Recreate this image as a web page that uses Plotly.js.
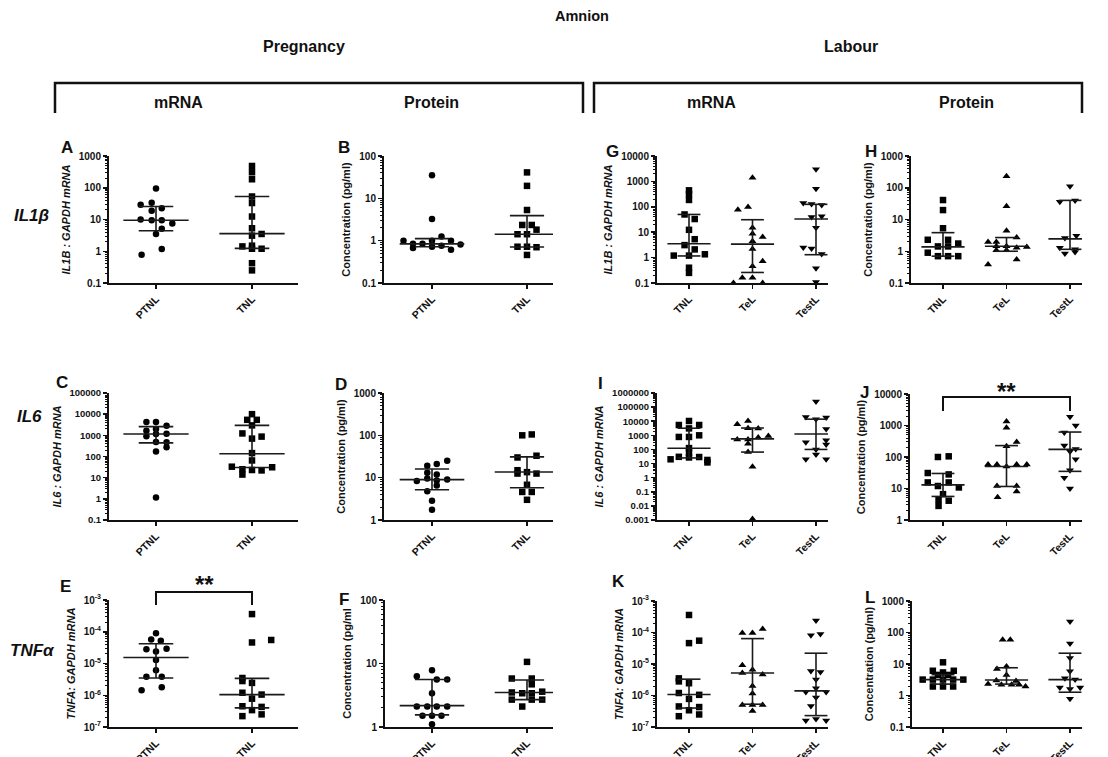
<!DOCTYPE html>
<html><head><meta charset="utf-8">
<script src="https://cdn.plot.ly/plotly-3.0.1.min.js"></script>
<style>html,body{margin:0;padding:0;background:#fff}#chart{width:1108px;height:757px}</style>
</head><body><div id="chart"></div>
<script>
// ---------- categories ----------
const pregCats = ['PTNL', 'TNL'];
const labCats = ['TNL', 'TeL', 'TestL'];

// ---------- Panel A : IL1B mRNA, pregnancy ----------
const A_PTNL = [95, 29, 34, 22.7, 19, 10, 9.5, 9.5, 7.5, 5.1, 3.5, 1.17, 0.78];
const A_PTNL_jit = [0, -0.16, -0.045, 0.06, -0.045, -0.16, -0.045, 0.06, 0.17, 0.06, 0, 0.06, -0.15];
const A_TNL = [485, 307, 185, 53, 33, 12.4, 5.3, 3.1, 3.5, 1.42, 1.5, 1.2, 1.2, 0.42, 0.25];
const A_TNL_jit = [0, 0, 0, 0, 0, 0, 0, 0, 0.1, -0.1, 0, 0.1, 0, 0, 0];
const A_med = [9.5, 3.6], A_q1 = [4.4, 1.23], A_q3 = [25.7, 53];

// ---------- Panel B : IL1B protein, pregnancy ----------
const B_PTNL = [35, 3.25, 1.0, 0.84, 0.67, 0.84, 1.0, 0.72, 1.25, 0.76, 1.0, 0.61, 0.81];
const B_PTNL_jit = [0, 0, -0.3, -0.2, -0.2, -0.1, 0, 0, 0.1, 0.1, 0.2, 0.2, 0.3];
const B_TNL = [41, 19.7, 5.3, 2.35, 2.35, 1.42, 1.42, 1.82, 0.72, 0.72, 0.70, 0.46];
const B_TNL_jit = [0, 0, 0, -0.05, 0.05, -0.1, 0, 0.1, -0.1, 0, 0.1, 0];
const B_med = [0.84, 1.42], B_q1 = [0.72, 0.71], B_q3 = [1.12, 3.9];

// ---------- Panel G : IL1B mRNA, labour ----------
const G_TNL = [445, 316, 186, 50, 33, 12.4, 5.3, 3.1, 2.1, 1.2, 1.2, 1.35, 0.4, 0.25];
const G_TNL_jit = [0, 0, 0, -0.07, 0.09, 0, 0.09, -0.07, 0.09, -0.24, 0, 0.25, 0, 0];
const G_TeL = [1400, 77, 98, 15, 8.7, 6.5, 4.4, 2.2, 0.72, 0.46, 0.16, 0.16, 0.1, 0.1];
const G_TeL_jit = [0, -0.23, -0.07, 0, 0, 0.16, 0, 0, 0.16, 0, -0.16, 0, -0.3, 0.16];
const G_TestL = [3000, 510, 140, 128, 117, 40, 42, 15, 2.5, 2.3, 1.4, 0.38, 0.11];
const G_TestL_jit = [0, 0, -0.2, -0.07, 0.09, -0.07, 0.09, 0, -0.2, -0.07, 0.09, 0, 0];
const G_med = [3.5, 3.4, 33], G_q1 = [1.16, 0.26, 1.3], G_q3 = [50, 31, 125];

// ---------- Panel H : IL1B protein, labour ----------
const H_TNL = [41, 19.8, 5.3, 2.3, 2.3, 1.42, 1.42, 1.75, 0.9, 0.7, 0.7, 0.7];
const H_TNL_jit = [0, 0, 0, -0.24, 0.08, -0.08, 0.08, 0.24, -0.24, -0.08, 0.08, 0.24];
const H_TeL = [230, 26, 4.4, 2.7, 1.96, 1.96, 1.43, 1.43, 1.37, 1.3, 1.07, 1.07, 0.55, 0.38];
const H_TeL_jit = [0, 0, 0, 0.16, -0.16, -0.29, -0.16, 0, 0.32, 0.16, 0, -0.16, 0.16, -0.29];
const H_TestL = [112, 36, 40, 3.1, 2.6, 1.3, 1.15, 0.95, 0.85];
const H_TestL_jit = [0, -0.16, 0.08, 0.1, -0.08, -0.16, 0.08, 0.08, -0.08];
const H_med = [1.37, 1.44, 2.46], H_q1 = [0.70, 1.0, 1.15], H_q3 = [3.85, 2.7, 40];

// ---------- Panel C : IL6 mRNA, pregnancy ----------
const C_PTNL = [4230, 4230, 2800, 2000, 1650, 900, 1150, 1200, 470, 480, 170, 270, 1.15];
const C_PTNL_jit = [-0.1, 0, 0.11, 0, -0.1, -0.1, 0, 0.11, 0.11, 0, 0, 0.11, 0];
const C_TNL = [10000, 5400, 5400, 2950, 1230, 870, 700, 145, 65, 33, 31, 25, 23, 22, 14];
const C_TNL_jit = [0, -0.05, 0.05, 0, -0.1, 0.1, 0, 0, 0, -0.21, 0.21, -0.1, 0, 0.1, -0.1];
const C_med = [1150, 135], C_q1 = [440, 30], C_q3 = [2570, 2950];

// ---------- Panel D : IL6 protein, pregnancy ----------
const D_PTNL = [19, 21, 25, 13, 11.8, 8.3, 9.5, 8.6, 9.1, 4.8, 6.5, 2.85, 1.74];
const D_PTNL_jit = [-0.05, 0.05, 0.16, -0.05, 0.05, -0.16, -0.05, 0.05, 0.16, -0.05, 0.05, 0, 0];
const D_TNL = [100, 105, 30, 33, 15, 12.5, 13.5, 12.5, 6.8, 4.6, 4.6, 3.0];
const D_TNL_jit = [-0.05, 0.05, -0.1, 0.1, -0.1, -0.1, 0, 0.1, 0, -0.05, 0.05, 0];
const D_med = [9, 13.6], D_q1 = [5.2, 5.8], D_q3 = [16, 31];

// ---------- Panel I : IL6 mRNA, labour ----------
const I_TNL = [10400, 5400, 5400, 3100, 770, 770, 1000, 125, 20, 30, 60, 27, 29, 18, 12];
const I_TNL_jit = [0, -0.16, 0.16, 0, -0.16, 0, 0.16, 0, -0.29, -0.16, 0, 0, 0.16, 0.29, 0.29];
const I_TeL = [10400, 6000, 3200, 3000, 500, 500, 700, 900, 250, 65, 6, 0.0012];
const I_TeL_jit = [-0.07, -0.24, -0.07, 0.09, -0.24, -0.07, 0.09, 0.25, -0.07, -0.07, 0, 0];
const I_TestL = [250000, 20000, 14000, 18000, 2800, 320, 450, 220, 100, 43, 20, 20];
const I_TestL_jit = [0, -0.16, 0, 0.16, 0.16, -0.16, 0.16, 0.16, 0, 0, -0.16, 0.16];
const I_med = [122, 560, 1250], I_q1 = [25, 65, 100], I_q3 = [3200, 3300, 14000];

// ---------- Panel J : IL6 protein, labour ----------
const J_TNL = [100, 105, 31, 28, 15.6, 15.6, 10.8, 12, 6.6, 4.4, 4.1, 2.8];
const J_TNL_jit = [-0.08, 0.09, -0.24, 0.09, -0.24, 0.09, 0.25, -0.08, 0, -0.07, 0.09, -0.07];
const J_TeL = [1350, 850, 300, 220, 58, 58, 50, 58, 58, 12, 12, 5.3, 8];
const J_TeL_jit = [0, 0, 0.16, 0, -0.29, -0.15, 0, 0.16, 0.32, -0.15, 0.16, -0.14, 0.16];
const J_TestL = [1900, 1000, 600, 230, 180, 150, 85, 38, 22, 10];
const J_TestL_jit = [0, 0.09, -0.09, -0.09, 0.09, 0, 0.09, 0, -0.09, 0];
const J_med = [13, 50, 175], J_q1 = [5.6, 11.6, 35], J_q3 = [30, 230, 620];
const J_sig = [0, 2];

// ---------- Panel E : TNFA mRNA, pregnancy ----------
const E_PTNL = [8.9e-5, 5.7e-5, 5.2e-5, 2.8e-5, 2.4e-5, 2.9e-5, 1.3e-5, 6.1e-6, 3.8e-6, 3.8e-6, 1.45e-6, 1.8e-6];
const E_PTNL_jit = [0, -0.05, 0.05, -0.1, 0, 0.11, 0, 0, -0.1, 0.06, -0.15, 0.06];
const E_TNL = [3.6e-4, 4.6e-5, 5.5e-5, 3.5e-6, 2.8e-6, 2.45e-6, 1.2e-6, 1.05e-6, 7.8e-7, 4.5e-7, 3.4e-7, 4.3e-7, 2.2e-7, 2.5e-7];
const E_TNL_jit = [0, 0, 0.2, -0.1, -0.1, 0, -0.1, 0.1, 0, -0.1, 0, 0.1, -0.1, 0.1];
const E_med = [1.55e-5, 1.05e-6], E_q1 = [3.5e-6, 4e-7], E_q3 = [4.2e-5, 3.4e-6];
const E_sig = [0, 1];

// ---------- Panel F : TNFA protein, pregnancy ----------
const F_PTNL = [7.85, 6.3, 5.6, 5.6, 3.4, 2.1, 2.1, 2.1, 2.1, 1.5, 1.5, 1.5, 1.1];
const F_PTNL_jit = [0, -0.16, 0.05, 0.16, 0, -0.16, -0.05, 0.05, 0.16, -0.1, 0, 0.1, 0];
const F_TNL = [10.6, 5.8, 5.8, 4.7, 3.5, 3.4, 3.4, 3.6, 2.7, 2.7, 2.7, 2.1];
const F_TNL_jit = [0, -0.16, 0.05, 0.05, -0.16, -0.05, 0.05, 0.16, -0.16, 0.05, 0.16, -0.05];
const F_med = [2.17, 3.5], F_q1 = [1.55, 2.7], F_q3 = [5.6, 5.5];

// ---------- Panel K : TNFA mRNA, labour ----------
const K_TNL = [3.6e-4, 4.6e-5, 5.5e-5, 3.5e-6, 2.8e-6, 2.45e-6, 1.2e-6, 1.05e-6, 7.8e-7, 4.5e-7, 3.4e-7, 4.3e-7, 2.2e-7, 2.5e-7];
const K_TNL_jit = [0, 0, 0.16, -0.16, -0.16, 0, -0.16, 0.16, 0, -0.16, 0, 0.16, -0.16, 0.16];
const K_TeL = [9.7e-5, 9.7e-5, 1.3e-4, 9.1e-6, 5.2e-6, 6.6e-6, 4.6e-6, 2e-6, 1.15e-6, 5e-7, 5e-7, 5e-7, 3.2e-7];
const K_TeL_jit = [-0.16, 0, 0.16, -0.16, -0.16, 0, 0.16, 0, 0, -0.16, 0, 0.16, 0];
const K_TestL = [2.4e-4, 8.2e-5, 9e-5, 6e-6, 5.6e-6, 3.2e-6, 1.7e-6, 1.3e-6, 1.3e-6, 8.7e-7, 4.6e-7, 1.6e-7, 1.8e-7, 1.6e-7];
const K_TestL_jit = [0, -0.08, 0.07, -0.08, 0.07, 0, 0, -0.16, 0.16, 0, -0.08, -0.16, 0, 0.16];
const K_med = [1.07e-6, 5.2e-6, 1.4e-6], K_q1 = [4e-7, 5.3e-7, 2.3e-7], K_q3 = [3.3e-6, 6.4e-5, 2.2e-5];

// ---------- Panel L : TNFA protein, labour ----------
const L_TNL = [11.3, 6.1, 6.1, 5.4, 4.5, 4.5, 3.2, 3.2, 3.2, 3.2, 3.2, 1.93, 1.93, 1.93];
const L_TNL_jit = [0, -0.16, 0.17, 0, -0.08, 0.08, -0.32, -0.16, 0, 0.16, 0.32, -0.16, 0, 0.16];
const L_TeL = [59, 59, 8.3, 6.9, 4.5, 3.0, 2.9, 2.3, 2.2, 2.2, 2.2, 1.93];
const L_TeL_jit = [-0.06, 0.06, 0, -0.15, 0, -0.16, 0.15, -0.29, -0.08, 0.08, 0.2, 0.3];
const L_TestL = [225, 45, 15.5, 5.9, 3.5, 3.2, 1.8, 1.8, 1.6, 0.79];
const L_TestL_jit = [0, 0, 0, 0, -0.08, 0.08, -0.16, 0.16, 0, 0];
const L_med = [3.2, 3.1, 3.2], L_q1 = [2.3, 2.3, 1.27], L_q3 = [4.6, 7.6, 22];

// ---------- tick labels ----------
const ticks_A = [0.1, 1, 10, 100, 1000];
const ticks_B = [0.1, 1, 10, 100];
const ticks_G = [0.1, 1, 10, 100, 1000, 10000];
const ticks_C = [0.1, 1, 10, 100, 1000, 10000, 100000];
const ticks_D = [1, 10, 100, 1000];
const ticks_I = [0.001, 0.01, 0.1, 1, 10, 100, 1000, 10000, 100000, 1000000];
const ticks_J = [1, 10, 100, 1000, 10000];
const ticks_E = [1e-7, 1e-6, 1e-5, 1e-4, 1e-3];
const ticks_E_text = ['10<sup>-7</sup>', '10<sup>-6</sup>', '10<sup>-5</sup>', '10<sup>-4</sup>', '10<sup>-3</sup>'];
const ticks_F = [1, 10, 100];

// ---------- layout / style configuration ----------
const W = 1108, H = 757;
const FONT = 'Liberation Sans, Arial, sans-serif';
const INK = '#111';
const SYM = {PTNL: 'circle', TNL: 'square', TeL: 'triangle-up', TestL: 'triangle-down'};
const geoPreg1 = {c0: 156, sp: 96}, geoPreg2 = {c0: 432, sp: 95}, geoLab1 = {c0: 689, sp: 63.5}, geoLab2 = {c0: 943, sp: 63.5};

const panels = [
  {n: 1, letter: 'A', lp: [67, 147], px: [109, 298], py: [156, 283], g: geoPreg1, cats: pregCats, data: [[A_PTNL, A_PTNL_jit], [A_TNL, A_TNL_jit]], med: A_med, q1: A_q1, q3: A_q3, ticks: ticks_A, yt: '<b><i>IL1B : GAPDH mRNA</i></b>'},
  {n: 2, letter: 'B', lp: [344, 148], px: [384, 553], py: [156, 283], g: geoPreg2, cats: pregCats, data: [[B_PTNL, B_PTNL_jit], [B_TNL, B_TNL_jit]], med: B_med, q1: B_q1, q3: B_q3, ticks: ticks_B, yt: '<b>Concentration (pg/ml)</b>'},
  {n: 3, letter: 'G', lp: [612, 151], px: [657, 828], py: [156, 283], g: geoLab1, cats: labCats, data: [[G_TNL, G_TNL_jit], [G_TeL, G_TeL_jit], [G_TestL, G_TestL_jit]], med: G_med, q1: G_q1, q3: G_q3, ticks: ticks_G, yt: '<b><i>IL1B : GAPDH mRNA</i></b>'},
  {n: 4, letter: 'H', lp: [871, 151], px: [911, 1082], py: [156, 283], g: geoLab2, cats: labCats, data: [[H_TNL, H_TNL_jit], [H_TeL, H_TeL_jit], [H_TestL, H_TestL_jit]], med: H_med, q1: H_q1, q3: H_q3, ticks: ticks_A, yt: '<b>Concentration (pg/ml)</b>'},
  {n: 5, letter: 'C', lp: [62, 382], px: [109, 298], py: [393, 520], g: geoPreg1, cats: pregCats, data: [[C_PTNL, C_PTNL_jit], [C_TNL, C_TNL_jit]], med: C_med, q1: C_q1, q3: C_q3, ticks: ticks_C, yt: '<b><i>IL6 : GAPDH mRNA</i></b>'},
  {n: 6, letter: 'D', lp: [341, 384], px: [384, 553], py: [393, 520], g: geoPreg2, cats: pregCats, data: [[D_PTNL, D_PTNL_jit], [D_TNL, D_TNL_jit]], med: D_med, q1: D_q1, q3: D_q3, ticks: ticks_D, yt: '<b>Concentration (pg/ml)</b>'},
  {n: 7, letter: 'I', lp: [600, 383], px: [657, 828], py: [393, 520], g: geoLab1, cats: labCats, data: [[I_TNL, I_TNL_jit], [I_TeL, I_TeL_jit], [I_TestL, I_TestL_jit]], med: I_med, q1: I_q1, q3: I_q3, ticks: ticks_I, yt: '<b><i>IL6 : GAPDH mRNA</i></b>'},
  {n: 8, letter: 'J', lp: [864, 392], px: [910, 1082], py: [394, 520], g: geoLab2, cats: labCats, data: [[J_TNL, J_TNL_jit], [J_TeL, J_TeL_jit], [J_TestL, J_TestL_jit]], med: J_med, q1: J_q1, q3: J_q3, ticks: ticks_J, yt: '<b>Concentration (pg/ml)</b>', sig: J_sig, sigStyle: {top: 0.976, foot: 0.865, star: 0.90}},
  {n: 9, letter: 'E', lp: [65, 586], px: [109, 298], py: [600, 727], g: geoPreg1, cats: pregCats, data: [[E_PTNL, E_PTNL_jit], [E_TNL, E_TNL_jit]], med: E_med, q1: E_q1, q3: E_q3, ticks: ticks_E, ticktext: ticks_E_text, yt: '<b><i>TNFA: GAPDH mRNA</i></b>', sig: E_sig, sigStyle: {top: 1.063, foot: 0.96, star: 1.0}},
  {n: 10, letter: 'F', lp: [344, 599], px: [385, 553], py: [600, 727], g: geoPreg2, cats: pregCats, data: [[F_PTNL, F_PTNL_jit], [F_TNL, F_TNL_jit]], med: F_med, q1: F_q1, q3: F_q3, ticks: ticks_F, yt: '<b>Concentration (pg/ml</b>'},
  {n: 11, letter: 'K', lp: [618, 581], px: [657, 828], py: [601, 727], g: geoLab1, cats: labCats, data: [[K_TNL, K_TNL_jit], [K_TeL, K_TeL_jit], [K_TestL, K_TestL_jit]], med: K_med, q1: K_q1, q3: K_q3, ticks: ticks_E, ticktext: ticks_E_text, yt: '<b><i>TNFA: GAPDH mRNA</i></b>'},
  {n: 12, letter: 'L', lp: [870, 597], px: [912, 1082], py: [601, 727], g: geoLab2, cats: labCats, data: [[L_TNL, L_TNL_jit], [L_TeL, L_TeL_jit], [L_TestL, L_TestL_jit]], med: L_med, q1: L_q1, q3: L_q3, ticks: ticks_A, yt: '<b>Concentration (pg/ml)</b>'}
];

const traces = [];
const layout = {
  width: W, height: H, margin: {l: 0, r: 0, t: 0, b: 0},
  paper_bgcolor: '#fff', plot_bgcolor: '#fff', showlegend: false,
  font: {family: FONT, color: INK},
  shapes: [], annotations: []
};

function minorVals(lo, hi) {
  const out = [];
  for (let d = lo; d < hi; d++) for (let k = 2; k <= 9; k++) out.push(k * Math.pow(10, d));
  return out;
}

panels.forEach(p => {
  const xs = p.n === 1 ? '' : String(p.n);
  const xa = 'x' + xs, ya = 'y' + xs;
  p.data.forEach(([vals, jit], gi) => {
    traces.push({
      type: 'scatter', mode: 'markers', xaxis: xa, yaxis: ya, hoverinfo: 'y',
      x: vals.map((v, i) => gi + jit[i]), y: vals, cliponaxis: false,
      marker: {symbol: SYM[p.cats[gi]], size: p.cats[gi].startsWith('Te') ? 7 : 6.5, color: '#000', line: {width: 0}}
    });
  });
  const lx = [], ly = [];
  p.cats.forEach((c, gi) => {
    lx.push(gi - 0.34, gi + 0.34, null, gi - 0.18, gi + 0.18, null, gi - 0.18, gi + 0.18, null, gi, gi, null);
    ly.push(p.med[gi], p.med[gi], null, p.q1[gi], p.q1[gi], null, p.q3[gi], p.q3[gi], null, p.q1[gi], p.q3[gi], null);
  });
  traces.push({type: 'scatter', mode: 'lines', xaxis: xa, yaxis: ya, x: lx, y: ly, hoverinfo: 'skip',
    line: {color: '#1a1a1a', width: 1.6}});

  const lo = Math.round(Math.log10(p.ticks[0])), hi = Math.round(Math.log10(p.ticks[p.ticks.length - 1]));
  const xr = [(p.px[0] - p.g.c0) / p.g.sp, (p.px[1] - p.g.c0) / p.g.sp];
  const yTickSize = p.ticks.length > 6 ? 9.5 : 10;
  layout['xaxis' + xs] = {
    domain: [p.px[0] / W, p.px[1] / W], anchor: ya, range: xr, fixedrange: true,
    tickmode: 'array', tickvals: p.cats.map((c, i) => i), ticktext: p.cats,
    tickangle: -45, ticks: 'outside', ticklen: 4, tickwidth: 1.5, tickcolor: INK,
    showline: true, linecolor: INK, linewidth: 2, showgrid: false, zeroline: false,
    tickfont: {family: FONT, size: 10.5, color: INK, weight: 'bold'}, automargin: false
  };
  layout['yaxis' + xs] = {
    domain: [1 - p.py[1] / H, 1 - p.py[0] / H], anchor: xa, type: 'log', range: [lo, hi], fixedrange: true,
    tickmode: 'array', tickvals: p.ticks, ticktext: p.ticktext || p.ticks.map(v => String(v)),
    ticks: 'outside', ticklen: 4, tickwidth: 1.5, tickcolor: INK,
    minor: {tickmode: 'array', tickvals: minorVals(lo, hi), ticks: 'outside', ticklen: 2, tickwidth: 1, tickcolor: INK, showgrid: false},
    showline: true, linecolor: INK, linewidth: 2, showgrid: false, zeroline: false,
    tickfont: {family: FONT, size: yTickSize, color: INK, weight: 'bold'}, automargin: false,
    title: {text: p.yt, font: {family: FONT, size: 11, color: INK}, standoff: 6}
  };
  layout.annotations.push({xref: 'paper', yref: 'paper', x: p.lp[0] / W, y: 1 - p.lp[1] / H,
    text: '<b>' + p.letter + '</b>', showarrow: false, xanchor: 'center', yanchor: 'middle',
    font: {family: FONT, size: 17, color: INK}});
  if (p.sig) {
    const s = p.sigStyle, a = p.sig[0], b = p.sig[1];
    layout.shapes.push({type: 'path', xref: xa, yref: ya + ' domain',
      path: `M${a},${s.foot} L${a},${s.top} L${b},${s.top} L${b},${s.foot}`,
      line: {color: INK, width: 2}});
    layout.annotations.push({xref: xa, yref: ya + ' domain', x: (a + b) / 2, y: s.star,
      text: '<b>**</b>', showarrow: false, xanchor: 'center', yanchor: 'bottom',
      font: {family: FONT, size: 24, color: INK}});
  }
});

// ---------- figure-level headers ----------
const headers = [
  ['<b>Amnion</b>', 582, 16, 14.5],
  ['<b>Pregnancy</b>', 304, 47, 16],
  ['<b>Labour</b>', 851, 47, 16],
  ['<b>mRNA</b>', 178, 103, 16],
  ['<b>Protein</b>', 431, 103, 16],
  ['<b>mRNA</b>', 711, 103, 16],
  ['<b>Protein</b>', 966, 103, 16],
  ['<b><i>IL1β</i></b>', 31, 215, 17],
  ['<b><i>IL6</i></b>', 29, 417, 17],
  ['<b><i>TNFα</i></b>', 32, 650, 17]
];
headers.forEach(([t, x, y, s]) => layout.annotations.push({xref: 'paper', yref: 'paper', x: x / W, y: 1 - y / H,
  text: t, showarrow: false, xanchor: 'center', yanchor: 'middle', font: {family: FONT, size: s, color: INK}}));
[[55, 583], [594, 1082]].forEach(([a, b]) => layout.shapes.push({type: 'path', xref: 'paper', yref: 'paper',
  path: `M${a / W},${1 - 113 / H} L${a / W},${1 - 83 / H} L${b / W},${1 - 83 / H} L${b / W},${1 - 113 / H}`,
  line: {color: INK, width: 2.5}}));

Plotly.newPlot('chart', traces, layout, {displayModeBar: false, staticPlot: true});
</script></body></html>
